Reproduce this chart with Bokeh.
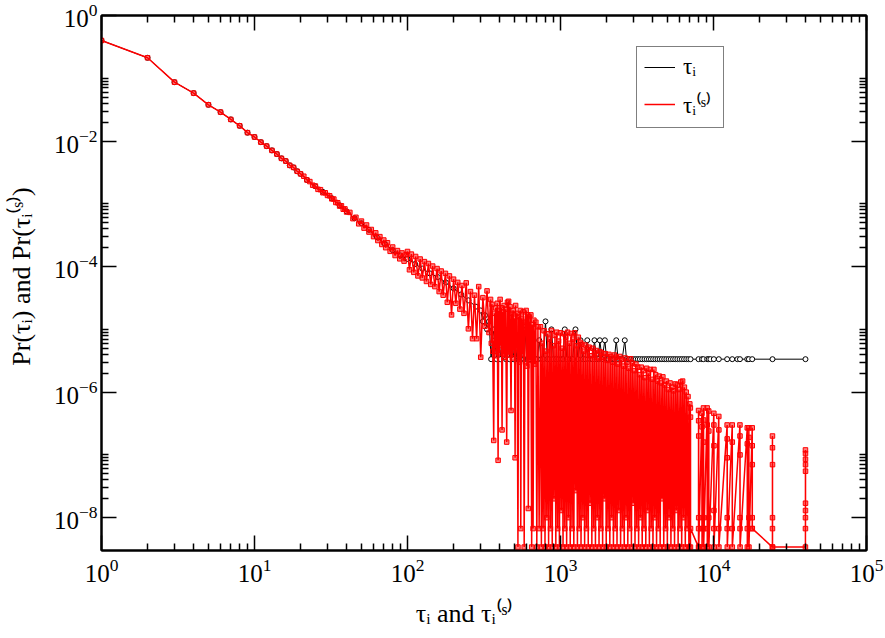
from bokeh.plotting import figure
from bokeh.models import FixedTicker, LogAxis, Legend, LegendItem, Range1d
from bokeh.core.properties import value
from bokeh.embed import file_html
from bokeh.resources import INLINE

# ---------------- data ----------------
# tau = 1..20 : both distributions coincide
head_x = [1, 2, 3, 4, 5, 6, 7, 8, 9, 10, 11, 12, 13, 14, 15, 16, 17, 18, 19, 20]
head_y = [0.40, 0.212, 0.0867, 0.058, 0.0378, 0.0289, 0.0221, 0.0175, 0.0136, 0.0116,
          0.0096, 0.0083, 0.0071, 0.0062, 0.0053, 0.0048, 0.0041, 0.0038, 0.0033, 0.0030]

# black series tau_i
black_mid_x = [22, 25, 28, 32, 36, 40, 45, 50, 56, 63, 71, 80, 90, 100, 112, 125, 140, 158, 178, 200, 224, 250, 280]
black_mid_y = [2.4e-3, 1.9e-3, 1.55e-3, 1.23e-3, 9.5e-4, 7.6e-4, 5.9e-4, 4.9e-4, 3.85e-4, 2.95e-4,
               2.3e-4, 1.83e-4, 1.5e-4, 1.32e-4, 1.1e-4, 9.3e-5, 7.8e-5, 6.8e-5, 5.6e-5, 4.5e-5,
               3.6e-5, 2.9e-5, 2.3e-5]
black_tail_x = [301, 311, 321, 331, 341, 352, 362, 372, 383, 394,
                405, 416, 428, 440, 452, 465, 478, 491, 505, 519,
                533, 548, 563, 579, 596, 613, 630, 648, 667, 686,
                706, 726, 747, 770, 798, 820, 845, 873, 900, 935,
                970, 1010, 1040, 1067, 1100, 1150, 1200, 1253, 1300, 1352,
                1400, 1450, 1496, 1560, 1620, 1667, 1720, 1770, 1807, 1870,
                1950, 2000, 2060, 2130, 2200, 2250, 2313, 2380, 2450, 2530,
                2631, 2700, 2800, 2900, 3000, 3100, 3200, 3300, 3420, 3540,
                3660, 3780, 3900, 4030, 4170, 4310, 4450, 4600, 4760, 4920,
                5090, 5260, 5440, 5620, 5810, 6010, 6210, 6420, 6640, 6860,
                7080, 7980, 8400, 8600, 9090, 9310, 9550, 10050, 10830, 12280,
                13260, 14330, 14890, 16620, 17030, 17910, 24300, 39920]
black_tail_y = [2.0e-5, 1.34e-5, 1.68e-5, 1.0e-5, 1.34e-5, 3.35e-6, 1.0e-5, 6.7e-6, 3.35e-6, 1.34e-5,
                3.35e-6, 6.7e-6, 1.0e-5, 3.35e-6, 6.7e-6, 3.35e-6, 1.0e-5, 3.35e-6, 6.7e-6, 3.35e-6,
                3.35e-6, 6.7e-6, 3.35e-6, 3.35e-6, 1.0e-5, 3.35e-6, 3.35e-6, 6.7e-6, 3.35e-6, 3.35e-6,
                3.35e-6, 6.7e-6, 3.35e-6, 3.35e-6, 1.34e-5, 3.35e-6, 3.35e-6, 1.0e-5, 3.35e-6, 3.35e-6,
                3.35e-6, 3.35e-6, 3.35e-6, 1.0e-5, 3.35e-6, 3.35e-6, 3.35e-6, 1.0e-5, 3.35e-6, 6.7e-6,
                3.35e-6, 3.35e-6, 6.7e-6, 3.35e-6, 3.35e-6, 6.7e-6, 3.35e-6, 3.35e-6, 6.7e-6, 3.35e-6,
                6.7e-6, 3.35e-6, 3.35e-6, 3.35e-6, 3.35e-6, 3.35e-6, 6.7e-6, 3.35e-6, 3.35e-6, 3.35e-6,
                6.7e-6, 3.35e-6, 3.35e-6, 3.35e-6, 3.35e-6, 3.35e-6, 3.35e-6, 3.35e-6, 3.35e-6, 3.35e-6,
                3.35e-6, 3.35e-6, 3.35e-6, 3.35e-6, 3.35e-6, 3.35e-6, 3.35e-6, 3.35e-6, 3.35e-6, 3.35e-6,
                3.35e-6, 3.35e-6, 3.35e-6, 3.35e-6, 3.35e-6, 3.35e-6, 3.35e-6, 3.35e-6, 3.35e-6, 3.35e-6,
                3.35e-6, 3.35e-6, 3.35e-6, 3.35e-6, 3.35e-6, 3.35e-6, 3.35e-6, 3.35e-6, 3.35e-6, 3.35e-6,
                3.35e-6, 3.35e-6, 3.35e-6, 3.35e-6, 3.35e-6, 3.35e-6, 3.35e-6, 3.35e-6]

# red series tau_i^(s)
red_a_x = [21, 22, 23, 24, 25, 26, 27, 28, 29, 30,
           31, 32, 33, 34, 35, 36, 37, 38, 39, 40,
           42, 44, 46, 48, 50, 52, 54, 56, 58, 60,
           62, 64, 66, 68, 70, 72, 74, 77, 80, 83,
           86, 89, 92, 95, 98]
red_a_y = [2.75e-3, 2.40e-3, 2.26e-3, 1.98e-3, 1.92e-3, 1.70e-3, 1.68e-3, 1.50e-3, 1.50e-3, 1.36e-3,
           1.34e-3, 1.20e-3, 1.19e-3, 1.05e-3, 1.04e-3, 9.2e-4, 9.3e-4, 8.2e-4, 8.3e-4, 7.4e-4,
           7.3e-4, 5.8e-4, 6.1e-4, 4.8e-4, 5.3e-4, 4.1e-4, 4.6e-4, 3.55e-4, 3.9e-4, 3.0e-4,
           3.45e-4, 2.6e-4, 3.0e-4, 2.25e-4, 2.65e-4, 2.0e-4, 2.4e-4, 1.75e-4, 2.05e-4, 1.5e-4,
           1.8e-4, 1.33e-4, 1.65e-4, 1.22e-4, 1.55e-4]
red_b_x = [100, 103, 106, 110, 113, 117, 121, 125, 129, 133,
           137, 142, 146, 151, 156, 161, 166, 171, 177, 182,
           188, 194, 200, 207, 213, 220, 227, 234, 242, 250,
           258, 266, 274, 283, 292, 301, 311, 321, 331, 341]
red_b_y = [1.74e-4, 8.9e-5, 1.58e-4, 8.1e-5, 1.45e-4, 7.1e-5, 1.32e-4, 6.6e-5, 1.2e-4, 5.8e-5,
           1.12e-4, 5.2e-5, 1.02e-4, 4.8e-5, 9.3e-5, 4.0e-5, 8.5e-5, 3.5e-5, 7.8e-5, 2.7e-5,
           7.1e-5, 1.7e-5, 6.3e-5, 2.6e-5, 5.6e-5, 2.1e-5, 5.0e-5, 1.8e-5, 5.5e-5, 1.02e-5,
           4.0e-5, 7.1e-6, 3.5e-5, 7.1e-6, 4.8e-5, 3.6e-6, 3.2e-5, 1.12e-5, 4.1e-5, 8.9e-6]
red_c_x = [349, 353, 357, 361, 366, 370, 374, 377, 381, 386,
           391, 395, 399, 403, 407, 411, 415, 420, 424, 428,
           433, 438, 445, 450, 454, 458, 463, 468, 475, 480,
           485, 490, 495, 500, 505]
red_c_y = [3.0e-5, 6.0e-6, 2.5e-5, 4.5e-6, 1.7e-7, 1.8e-5, 5.0e-6, 2.2e-5, 3.8e-6, 2.6e-5,
           8.2e-8, 2.0e-5, 4.2e-6, 3.0e-5, 5.5e-6, 2.2e-5, 2.5e-7, 1.9e-5, 4.0e-6, 2.4e-5,
           3.6e-6, 2.1e-5, 1.6e-7, 2.7e-5, 4.4e-6, 2.8e-5, 3.9e-6, 2.3e-5, 5.1e-7, 1.8e-5,
           3.5e-6, 2.0e-5, 4.6e-6, 1.5e-5, 9.0e-8]
red_d_x = [509, 514, 520, 527, 533, 540, 546, 550, 556, 563,
           572, 579, 586, 596, 603, 610, 616, 623, 631, 640,
           648, 655, 662, 670, 679, 690, 700, 712, 725]
red_d_y = [2.4e-5, 5.0e-6, 1.8e-5, 3.4e-9, 1.6e-5, 3.0e-6, 2.0e-5, 6.7e-9, 1.5e-5, 4.0e-6,
           1.9e-5, 3.4e-9, 1.3e-5, 2.0e-5, 2.6e-6, 1.7e-5, 1.4e-8, 1.6e-5, 3.2e-6, 1.7e-5,
           3.4e-9, 1.2e-5, 6.7e-9, 1.4e-5, 2.8e-6, 1.3e-5, 3.4e-9, 1.1e-5, 6.7e-9]
red_e_x = [740, 750, 760, 770, 781, 792, 803, 814, 825, 836,
           848, 860, 871, 883, 895, 907, 920, 932, 945, 958,
           971, 984, 997, 1011, 1025, 1039, 1053, 1067, 1082, 1097,
           1112, 1127, 1142, 1158, 1174, 1190, 1206, 1222, 1239, 1256,
           1273, 1290, 1308, 1326, 1344, 1362, 1381, 1400, 1419, 1438,
           1458, 1478, 1498, 1518, 1539, 1560, 1581, 1603, 1625, 1647,
           1669, 1692, 1715, 1738, 1762, 1786, 1810, 1835, 1860, 1885,
           1911, 1937, 1963, 1990, 2017, 2045, 2073, 2101, 2130, 2159,
           2188, 2218, 2248, 2279, 2310, 2341, 2373, 2405, 2438, 2471,
           2505, 2539, 2574, 2609, 2645, 2681, 2717, 2754, 2792, 2830,
           2868, 2907, 2947, 2987, 3028, 3069, 3111, 3153, 3196, 3240,
           3284, 3329, 3374, 3420, 3466, 3514, 3561, 3610, 3659, 3709,
           3759, 3810, 3862, 3915, 3968, 4022, 4077, 4132, 4188, 4245,
           4303, 4362, 4421, 4481, 4542, 4604, 4667, 4730, 4794, 4860,
           4926, 4993, 5061, 5130, 5200, 5270, 5342, 5415, 5488, 5563,
           5638, 5715, 5793, 5871, 5951, 6032, 6114, 6197, 6282, 6367,
           6454, 6542, 6631, 6721, 6813, 6905, 7000]
red_e_y = [1.1e-5, 3.4e-9, 6.0e-6, 6.7e-9, 9.5e-6, 3.4e-9, 4.5e-6, 1.0e-8, 8.5e-6, 3.4e-9,
           7.0e-6, 6.7e-9, 9.6e-6, 3.4e-9, 5.5e-6, 2.0e-8, 8.0e-6, 3.4e-9, 9.0e-6, 6.7e-9,
           6.5e-6, 3.4e-9, 8.8e-6, 1.3e-8, 5.0e-6, 3.4e-9, 8.5e-6, 6.7e-9, 7.5e-6, 3.4e-9,
           9.0e-6, 1.0e-8, 6.0e-6, 3.4e-9, 8.6e-6, 6.7e-9, 7.0e-6, 3.4e-9, 8.8e-6, 2.7e-8,
           5.5e-6, 3.4e-9, 7.5e-6, 6.7e-9, 6.2e-6, 3.4e-9, 5.8e-6, 1.0e-8, 4.5e-6, 3.4e-9,
           5.6e-6, 6.7e-9, 4.8e-6, 3.4e-9, 5.2e-6, 1.7e-8, 3.8e-6, 3.4e-9, 5.0e-6, 6.7e-9,
           4.2e-6, 3.4e-9, 4.6e-6, 1.0e-8, 3.5e-6, 3.4e-9, 4.4e-6, 6.7e-9, 4.2e-6, 3.4e-9,
           3.6e-6, 2.0e-8, 4.1e-6, 3.4e-9, 3.2e-6, 6.7e-9, 4.0e-6, 3.4e-9, 3.7e-6, 1.0e-8,
           3.0e-6, 3.4e-9, 3.9e-6, 6.7e-9, 3.6e-6, 3.4e-9, 2.8e-6, 1.3e-8, 3.7e-6, 3.4e-9,
           3.3e-6, 6.7e-9, 2.6e-6, 3.4e-9, 3.5e-6, 1.0e-8, 3.0e-6, 3.4e-9, 2.4e-6, 6.7e-9,
           3.4e-6, 3.4e-9, 2.9e-6, 1.7e-8, 2.2e-6, 3.4e-9, 2.8e-6, 6.7e-9, 2.5e-6, 3.4e-9,
           1.9e-6, 1.0e-8, 2.5e-6, 3.4e-9, 2.2e-6, 6.7e-9, 1.7e-6, 3.4e-9, 2.4e-6, 1.3e-8,
           2.0e-6, 3.4e-9, 2.3e-6, 6.7e-9, 1.6e-6, 3.4e-9, 2.3e-6, 1.0e-8, 1.9e-6, 3.4e-9,
           1.5e-6, 6.7e-9, 1.8e-6, 3.4e-9, 1.4e-6, 2.0e-8, 1.75e-6, 3.4e-9, 1.3e-6, 6.7e-9,
           1.5e-6, 3.4e-9, 1.1e-6, 1.0e-8, 1.4e-6, 3.4e-9, 1.2e-6, 6.7e-9, 1.05e-6, 3.4e-9,
           1.35e-6, 1.3e-8, 1.3e-6, 3.4e-9, 1.1e-6, 6.7e-9, 1.45e-6, 3.4e-9, 1.5e-6, 1.0e-8,
           1.2e-6, 3.4e-9, 1.0e-6, 6.7e-9, 8.5e-7, 3.4e-9, 6.5e-7]
red_f_x = [7060, 7070, 7075, 7080, 7980, 7985, 7990, 7995, 8000, 8005,
           8010, 8400, 8405, 8410, 8415, 8600, 8605, 8610, 8615, 8620,
           8625, 9090, 9095, 9100, 9105, 9310, 9315, 9320, 9325, 10050,
           10055, 10060, 10065, 10070, 10075, 10830, 10835, 10840, 10845, 12280,
           12285, 12290, 12295, 12300, 12305, 13260, 13265, 13270, 13275, 14890,
           14895, 14900, 14905, 14910, 14915, 16620, 16625, 16630, 16635, 17030,
           17035, 17040, 17045, 17910, 17915, 17920, 17925, 17930, 17935, 24280,
           24285, 24290, 24295, 24300, 24305, 24310, 39900, 39905, 39910, 39915,
           39920, 39925, 39930, 39935, 39940, 39945]
red_f_y = [5.6e-7, 3.4e-9, 4.0e-7, 6.7e-9, 3.4e-9, 5.1e-7, 6.7e-9, 3.5e-7, 1.0e-8, 2.0e-7,
           3.4e-9, 4.6e-7, 6.7e-9, 2.8e-7, 3.4e-9, 5.6e-7, 1.0e-8, 3.6e-7, 6.7e-9, 1.6e-7,
           3.4e-9, 5.6e-7, 6.7e-9, 3.0e-7, 3.4e-9, 5.0e-7, 1.0e-8, 2.4e-7, 3.4e-9, 4.6e-7,
           6.7e-9, 3.0e-7, 1.3e-8, 1.4e-7, 3.4e-9, 4.1e-7, 6.7e-9, 2.5e-7, 3.4e-9, 3.0e-7,
           6.7e-9, 1.8e-7, 1.0e-8, 9.0e-8, 3.4e-9, 3.0e-7, 6.7e-9, 1.6e-7, 3.4e-9, 3.0e-7,
           1.0e-8, 2.0e-7, 6.7e-9, 1.0e-7, 3.4e-9, 2.7e-7, 6.7e-9, 1.5e-7, 3.4e-9, 2.7e-7,
           1.0e-8, 1.9e-7, 3.4e-9, 2.7e-7, 6.7e-9, 1.4e-7, 1.0e-8, 7.0e-8, 6.7e-9, 3.4e-9,
           2.0e-7, 6.7e-9, 1.3e-7, 1.0e-8, 7.0e-8, 3.4e-9, 3.4e-9, 1.2e-7, 6.7e-9, 1.05e-7,
           1.0e-8, 8.5e-8, 1.3e-8, 7.0e-8, 1.7e-8, 5.5e-8]

# axis ticks and texts
x_major = [1, 10, 100, 1000, 10000, 100000]
x_minor_mult = [2, 3, 4, 5, 6, 7, 8, 9]
x_minor_dec = [1, 10, 100, 1000, 10000]
y_major = [1e-8, 1e-6, 1e-4, 1e-2, 1]
y_minor_mult = [2, 3, 4, 5, 6, 7, 8, 9, 10]
y_minor_dec = [1e-8, 1e-6, 1e-4, 1e-2]
x_title = "τᵢ and τᵢ⁽ˢ⁾"
y_title = "Pr(τᵢ) and Pr(τᵢ⁽ˢ⁾)"
legend_labels = ["τᵢ", "τᵢ⁽ˢ⁾"]

# ---------------- assemble ----------------
def pairs(xs, ys):
    n = min(len(xs), len(ys))
    return list(xs[:n]), list(ys[:n])

bx, by = [], []
for xs, ys in [(head_x, head_y), (black_mid_x, black_mid_y), (black_tail_x, black_tail_y)]:
    a, b = pairs(xs, ys); bx += a; by += b
rx, ry = [], []
for xs, ys in [(head_x, head_y), (red_a_x, red_a_y), (red_b_x, red_b_y), (red_c_x, red_c_y),
               (red_d_x, red_d_y), (red_e_x, red_e_y), (red_f_x, red_f_y)]:
    a, b = pairs(xs, ys); rx += a; ry += b

x_minor = [m * d for d in x_minor_dec for m in x_minor_mult]
y_minor = [m * d for d in y_minor_dec for m in y_minor_mult]

FONT = "Liberation Serif"
NB = "\u00a0"

p = figure(width=885, height=638, x_axis_type="log", y_axis_type="log",
           x_range=Range1d(1, 1e5), y_range=Range1d(3e-9, 1),
           output_backend="svg", toolbar_location=None,
           min_border_left=101, min_border_right=19, min_border_top=15, min_border_bottom=88)
p.grid.visible = False
p.outline_line_color = "black"
p.outline_line_width = 2
p.background_fill_color = "white"
p.border_fill_color = "white"

xt = FixedTicker(ticks=x_major, minor_ticks=x_minor)
yt = FixedTicker(ticks=y_major, minor_ticks=y_minor)


def style(ax, labels=True, standoff=4):
    ax.axis_line_width = 2
    ax.axis_line_color = "black"
    ax.major_tick_in = 15
    ax.major_tick_out = 0
    ax.minor_tick_in = 7
    ax.minor_tick_out = 0
    ax.major_tick_line_width = 1.5
    ax.minor_tick_line_width = 1.5
    ax.major_tick_line_color = "black"
    ax.minor_tick_line_color = "black"
    ax.major_label_text_font = FONT
    ax.major_label_text_color = "black"
    ax.axis_label_text_font = FONT
    ax.axis_label_text_font_style = "normal"
    ax.axis_label_text_font_size = "26px"
    ax.axis_label_text_color = "black"
    if labels:
        ax.major_label_text_font_size = "25px"
        ax.major_label_standoff = standoff
    else:
        ax.major_label_text_font_size = "1px"
        ax.major_label_text_alpha = 0.0
        ax.major_label_standoff = 0


p.xaxis[0].ticker = xt
p.yaxis[0].ticker = yt
style(p.xaxis[0], True, 8)
style(p.yaxis[0], True, 4)
# trailing / leading no-break spaces only nudge the centred titles to where the reference has them
p.xaxis[0].axis_label = x_title + NB * 6
p.xaxis[0].axis_label_standoff = 14
p.yaxis[0].axis_label = NB * 2 + y_title
p.yaxis[0].axis_label_standoff = 15
top = LogAxis(ticker=xt)
right = LogAxis(ticker=yt)
style(top, False)
style(right, False)
p.add_layout(top, "above")
p.add_layout(right, "right")

bl = p.line(bx, by, line_color="black", line_width=1, line_join="bevel")
bm = p.scatter(bx, by, marker="circle", size=5, line_color="black", fill_color="white", line_width=1)
rl = p.line(rx, ry, line_color="red", line_width=1.5, line_join="bevel")
rm = p.scatter(rx, ry, marker="square", size=4.5, line_color="red", fill_color="red", fill_alpha=0.5, line_width=1)

legend = Legend(items=[LegendItem(label=value(legend_labels[0]), renderers=[bl]),
                       LegendItem(label=value(legend_labels[1]), renderers=[rl])],
                location=(535, 422), orientation="vertical", padding=7, spacing=8,
                glyph_width=31, glyph_height=26, label_height=26, label_width=33,
                label_standoff=8, label_text_font=FONT, label_text_font_size="23px",
                label_text_color="black",
                border_line_color="black", border_line_width=1.5,
                background_fill_color="white", background_fill_alpha=1.0, margin=0)
p.add_layout(legend)

open("out.html", "w").write(file_html(p, INLINE))
